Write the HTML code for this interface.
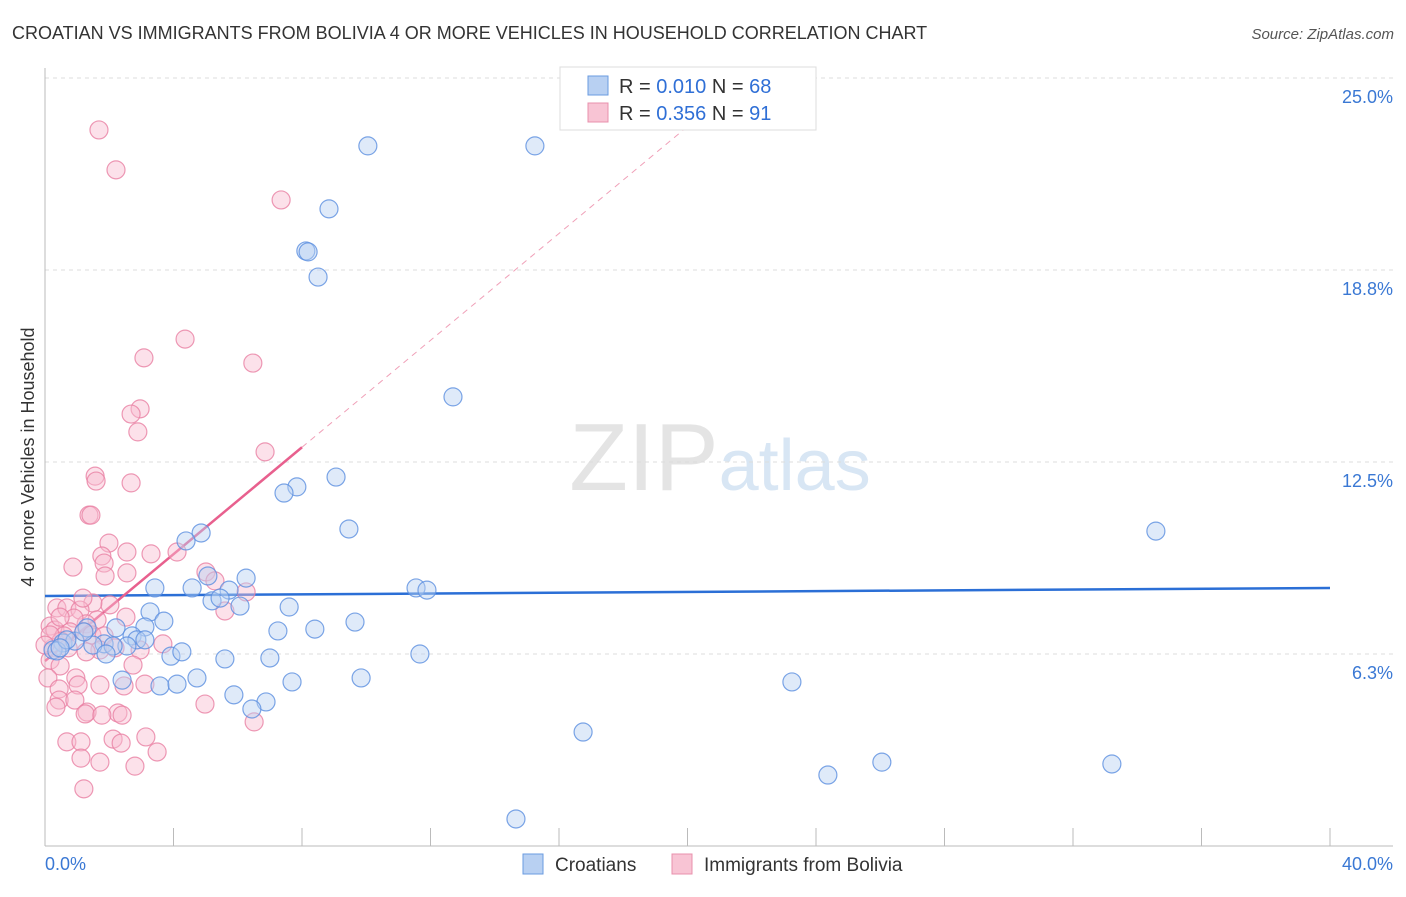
<!DOCTYPE html>
<html><head><meta charset="utf-8"><style>
body{margin:0;background:#fff;font-family:"Liberation Sans",sans-serif;}
svg text{font-family:"Liberation Sans",sans-serif;}
</style></head><body>
<svg id="chart" width="1406" height="892" xmlns="http://www.w3.org/2000/svg">
<text x="12" y="39" font-size="18" fill="#333">CROATIAN VS IMMIGRANTS FROM BOLIVIA 4 OR MORE VEHICLES IN HOUSEHOLD CORRELATION CHART</text>
<text x="1394" y="39" font-size="15" fill="#555" font-style="italic" text-anchor="end">Source: ZipAtlas.com</text>
<text x="720" y="490" font-size="96" text-anchor="middle" font-family="Liberation Serif" fill="#e4e4e4">ZIP<tspan fill="#d8e6f4" font-family="Liberation Sans" font-size="72">atlas</tspan></text>
<text transform="translate(34,457) rotate(-90)" font-size="18" fill="#333" text-anchor="middle">4 or more Vehicles in Household</text>
<g id="grid"></g><g id="axes"></g><g id="trend"></g><g id="pts"></g>
<g>
<rect x="560" y="67" width="256" height="63" fill="#fff" stroke="#ddd"/>
<rect x="588" y="76" width="20" height="19" fill="#b8d0f2" stroke="#6a9be0"/>
<rect x="588" y="103" width="20" height="19" fill="#f8c4d4" stroke="#e890ac"/>
<text x="619" y="93" font-size="20" fill="#333">R = <tspan fill="#2f6fd6">0.010</tspan>    N = <tspan fill="#2f6fd6">68</tspan></text>
<text x="619" y="120" font-size="20" fill="#333">R = <tspan fill="#2f6fd6">0.356</tspan>    N =  <tspan fill="#2f6fd6">91</tspan></text>
</g>
<g>
<rect x="523" y="854" width="20" height="20" fill="#b8d0f2" stroke="#6a9be0"/>
<text x="555" y="871" font-size="19" fill="#333">Croatians</text>
<rect x="672" y="854" width="20" height="20" fill="#f8c4d4" stroke="#e890ac"/>
<text x="704" y="871" font-size="19" fill="#333">Immigrants from Bolivia</text>
</g>
</svg>
<script>
const yTicks=[6.25,12.5,18.75,25];
const yTickLabels=["6.3%","12.5%","18.8%","25.0%"];
const xTickLabels=["0.0%","40.0%"];
const blueX=[10.05,15.25,8.84,8.12,8.19,8.50,12.70,9.06,7.84,7.44,9.46,4.86,4.39,34.58,6.26,5.07,3.42,4.58,11.55,11.89,5.73,5.20,5.45,6.07,7.60,3.27,3.70,9.65,3.11,2.21,1.31,7.25,8.40,2.71,2.86,1.84,1.49,2.55,2.12,0.56,0.93,0.25,0.37,1.90,3.92,4.26,11.67,5.60,7.00,2.40,7.69,9.84,23.25,3.58,4.11,4.73,5.88,6.88,6.44,16.75,24.37,26.05,33.21,14.66,0.68,1.21,0.47,3.11];
const blueY=[22.79,22.79,20.74,19.37,19.34,18.52,14.62,12.01,11.69,11.49,10.32,10.19,9.93,10.25,8.72,8.79,8.40,8.40,8.40,8.33,8.33,7.98,8.07,7.81,7.78,7.62,7.32,7.29,7.13,7.10,7.10,7.00,7.06,6.84,6.71,6.58,6.54,6.51,6.51,6.61,6.67,6.38,6.35,6.25,6.18,6.32,6.25,6.09,6.12,5.40,5.34,5.47,5.34,5.21,5.27,5.47,4.92,4.69,4.46,3.71,2.31,2.73,2.67,0.88,6.71,6.97,6.45,6.71];
const pinkX=[1.68,2.21,7.35,4.36,3.08,6.47,2.96,2.68,2.89,6.85,1.56,1.59,2.68,1.37,1.43,1.99,2.55,3.30,4.11,1.77,1.84,0.87,1.87,2.55,5.01,5.29,6.26,5.60,2.02,1.49,0.37,0.68,1.09,1.62,1.28,2.52,0.90,0.16,0.31,0.78,0.59,1.21,1.46,1.84,0.50,0.25,0.72,1.71,1.28,2.18,2.96,3.67,0.16,0.47,2.74,0.09,0.96,1.03,1.71,3.11,2.46,0.44,0.44,0.93,0.34,1.31,2.27,4.98,6.51,1.25,1.77,2.40,2.12,0.68,1.12,2.37,3.14,3.49,1.12,1.71,2.80,1.21,0.16,0,0.47,1.18];
const pinkY=[23.31,22.01,21.03,16.50,15.89,15.72,14.23,14.06,13.48,12.83,12.04,11.88,11.82,10.77,10.77,9.86,9.57,9.51,9.57,9.44,9.21,9.08,8.79,8.89,8.92,8.63,8.27,7.65,7.85,7.91,7.75,7.75,7.68,7.36,7.23,7.45,7.42,7.16,7.03,6.97,6.84,6.97,6.87,6.84,6.67,6.45,6.45,6.38,6.32,6.45,6.38,6.58,6.05,5.86,5.89,5.47,5.47,5.24,5.24,5.27,5.21,5.11,4.75,4.75,4.52,4.36,4.33,4.62,4.04,4.30,4.26,4.26,3.48,3.39,3.39,3.35,3.55,3.06,2.86,2.73,2.60,1.86,6.87,6.54,7.45,8.07];
const blueTrend=[8.14,8.40];
const pinkTrend=[6.02,0.87];
const NS="http://www.w3.org/2000/svg";
const X=v=>45+v/40*1285, Y=v=>846-v/25*768;
function mk(tag,attrs,parent){const e=document.createElementNS(NS,tag);for(const k in attrs)e.setAttribute(k,attrs[k]);document.getElementById(parent).appendChild(e);return e;}
yTicks.forEach((t,i)=>{
 const l=mk('line',{x1:45,x2:1393,y1:Y(t),y2:Y(t),stroke:'#ddd','stroke-dasharray':'4,4'},'grid');
 
 
 const tx=mk('text',{x:1393,y:Y(t)+25,'font-size':18,fill:'#3a78d4','text-anchor':'end'},'grid');
 tx.textContent=yTickLabels[i];
 
 
});
const ax=mk('line',{x1:45,x2:1393,y1:846,y2:846,stroke:'#bbb'},'axes');


const ay=mk('line',{x1:45,x2:45,y1:68,y2:846,stroke:'#bbb'},'axes');


for(let i=1;i<=10;i++){const t=mk('line',{x1:X(i*4),x2:X(i*4),y1:828,y2:846,stroke:'#bbb'},'axes');
 
 }
[[0,'start',45],[40,'end',1393]].forEach((a,i)=>{const t=mk('text',{x:a[2],y:870,'font-size':18,fill:'#3a78d4','text-anchor':a[1]},'axes');t.textContent=xTickLabels[i];
 
 });
function pts(xs,ys,fill,stroke,name){xs.forEach((x,i)=>{const c=mk('circle',{cx:X(x),cy:Y(ys[i]),r:9,fill:fill,'fill-opacity':0.45,stroke:stroke,'stroke-width':1.2,'stroke-opacity':0.8},'pts');
 
 });}
pts(pinkX,pinkY,'#f8bcd0','#e87fa2','bolivia-point');
pts(blueX,blueY,'#b8d0f2','#5b8fe0','croatian-point');
const bt=mk('line',{x1:X(0),y1:Y(blueTrend[0]),x2:X(40),y2:Y(blueTrend[1]),stroke:'#2b6fd6','stroke-width':2.5},'trend');


const pe=8, pd=(25-pinkTrend[0])/pinkTrend[1];
const ps=mk('line',{x1:X(0),y1:Y(pinkTrend[0]),x2:X(pe),y2:Y(pinkTrend[0]+pinkTrend[1]*pe),stroke:'#e8608e','stroke-width':2.5},'trend');


const pdl=mk('line',{x1:X(pe),y1:Y(pinkTrend[0]+pinkTrend[1]*pe),x2:X(pd),y2:Y(25),stroke:'#f0a0b8','stroke-width':1,'stroke-dasharray':'6,5'},'trend');


</script>
</body></html>
